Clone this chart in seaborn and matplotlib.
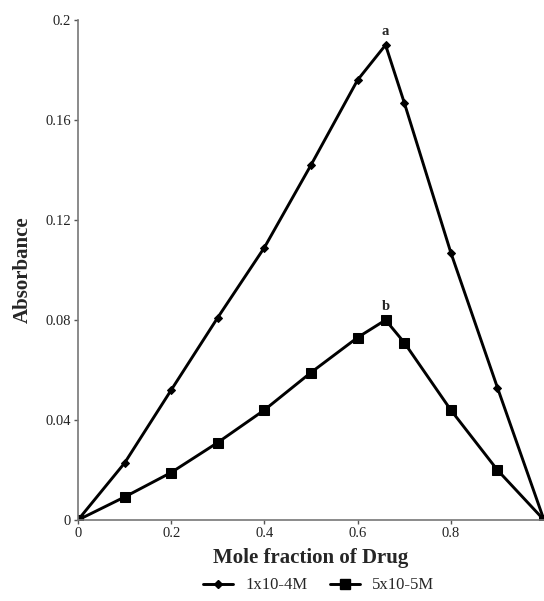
import matplotlib
matplotlib.use("Agg")
import matplotlib.pyplot as plt
import seaborn as sns
import pandas as pd
from matplotlib.lines import Line2D

mole_fraction = [0, 0.1, 0.2, 0.3, 0.4, 0.5, 0.6, 0.66, 0.7, 0.8, 0.9, 1.0]
abs_1e4 = [0, 0.0228, 0.052, 0.081, 0.109, 0.142, 0.176, 0.190, 0.167, 0.107, 0.053, 0]
abs_5e5 = [0, 0.0092, 0.019, 0.031, 0.044, 0.059, 0.073, 0.080, 0.071, 0.044, 0.020, 0]
series_names = ["1x10-4M", "5x10-5M"]
x_ticks = [0, 0.2, 0.4, 0.6, 0.8]
x_tick_labels = ["0", "0.2", "0.4", "0.6", "0.8"]
y_ticks = [0, 0.04, 0.08, 0.12, 0.16, 0.2]
y_tick_labels = ["0", "0.04", "0.08", "0.12", "0.16", "0.2"]

df = pd.DataFrame({
    "x": mole_fraction * 2,
    "y": abs_1e4 + abs_5e5,
    "series": [series_names[0]] * len(mole_fraction) + [series_names[1]] * len(mole_fraction),
})

sns.set_theme(style="white")
plt.rcParams["font.family"] = ["Liberation Serif", "DejaVu Serif"]

fig = plt.figure(figsize=(5.44, 6.01), dpi=100)
ax = fig.add_axes([78 / 544, 81 / 601, (544 - 78) / 544, 500 / 601])

sns.lineplot(data=df, x="x", y="y", hue="series", style="series",
             palette=["black", "black"], markers=["D", "s"], dashes=False,
             markersize=6, linewidth=2.1, ax=ax, legend=False)
lines = ax.get_lines()
if len(lines) >= 2:
    lines[0].set_markersize(4.5)
    lines[1].set_markersize(6.5)
for ln in lines:
    ln.set_markeredgecolor("black")
    ln.set_markerfacecolor("black")

ax.set_xlim(0, 1.0)
ax.set_ylim(0, 0.2)
ax.set_xticks(x_ticks)
ax.set_xticklabels(x_tick_labels)
ax.set_yticks(y_ticks)
ax.set_yticklabels(y_tick_labels)
ax.tick_params(axis="both", which="both", direction="out", length=3, width=1,
               colors="#555555", labelcolor="#222222", labelsize=10.5, pad=2,
               left=True, bottom=True)

for side in ["top", "right"]:
    ax.spines[side].set_visible(False)
for side in ["left", "bottom"]:
    ax.spines[side].set_color("#777777")
    ax.spines[side].set_linewidth(1.2)

ax.set_xlabel("Mole fraction of Drug", fontsize=15, fontweight="bold", labelpad=6)
ax.set_ylabel("Absorbance", fontsize=15, fontweight="bold")
ax.yaxis.set_label_coords((33 - 78) / 466, 0.5)

ax.annotate("a", (0.66, 0.190), xytext=(0, 5), textcoords="offset points",
            ha="center", va="bottom", fontsize=10.5, fontweight="bold")
ax.annotate("b", (0.66, 0.080), xytext=(0, 5), textcoords="offset points",
            ha="center", va="bottom", fontsize=10.5, fontweight="bold")

handles = [Line2D([], [], color="black", marker="D", markersize=4.5, linewidth=2.1),
           Line2D([], [], color="black", marker="s", markersize=6.5, linewidth=2.1)]
fig.legend(handles, series_names, loc="center", bbox_to_anchor=(0.586, 0.026),
           ncol=2, frameon=False, fontsize=12, handlelength=1.8, columnspacing=1.4,
           handletextpad=0.7)

fig.savefig("out.png", dpi=100)
